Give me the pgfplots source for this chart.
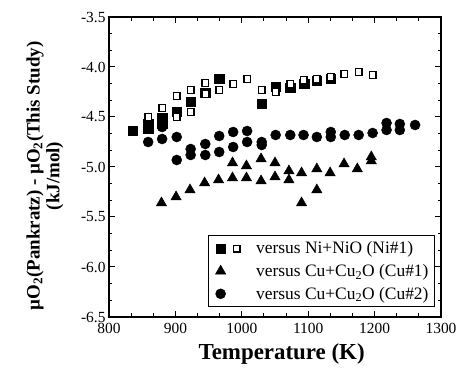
\documentclass[border=0pt]{standalone}
\usepackage{fontspec}
\setmainfont{Liberation Serif}
\usepackage{pgfplots}
\pgfplotsset{compat=1.18}
\begin{document}
\begin{tikzpicture}
\begin{axis}[
  name=ax,
  scale only axis,
  width=332bp, height=300bp,
  xmin=800, xmax=1300, ymin=-6.5, ymax=-3.5,
  xtick={800,900,1000,1100,1200,1300},
  ytick={-6.5,-6.0,-5.5,-5.0,-4.5,-4.0,-3.5},
  minor tick num=2,
  tick align=inside, tick pos=both,
  major tick length=6bp, minor tick length=3.5bp,
  axis line style={line width=1.3bp},
  every tick/.style={black, line width=1bp},
  /pgf/number format/assume math mode=true,
  ticklabel style={font=\fontsize{15.5}{17}\selectfont},
  y tick label style={/pgf/number format/.cd, fixed, fixed zerofill, precision=1, /tikz/.cd},
  x tick label style={/pgf/number format/.cd, 1000 sep={}, /tikz/.cd, yshift=-2.5bp},
  xlabel={Temperature (K)},
  xlabel style={font=\bfseries\fontsize{23}{25}\selectfont, at={(axis description cs:0.52,-0.14)}, anchor=base, inner sep=0pt},
  ylabel={µO\textsubscript{2}(Pankratz) - µO\textsubscript{2}(This Study)\\(kJ/mol)},
  ylabel style={font=\bfseries\fontsize{19}{20}\selectfont, align=center, at={(axis description cs:-0.193,0.47)}, anchor=center},
  legend cell align=left,
  legend style={at={(rel axis cs:0.982,0.033)}, anchor=south east, draw=black, line width=1bp, fill=white, inner sep=4bp, row sep=5bp, column sep=0bp, nodes={inner sep=2bp, font=\fontsize{17.5}{19}\selectfont}},
]
\addplot[only marks, black, mark=square*, mark size=4.7bp, mark options={line width=0.6bp, fill=black},
  legend image code/.code={
    \path (-8bp,0bp) (33bp,0bp);
    \draw[black, line width=0.6bp, mark options={fill=black, line width=0.6bp}] plot[mark=square*, mark size=4.7bp] coordinates {(0bp,0bp)};
    \draw[black, line width=1.4bp, mark options={fill=white, line width=1.4bp}] plot[mark=square*, mark size=3.25bp] coordinates {(16bp,0bp)};
  }] table {
x y
836 -4.64
859 -4.57
859 -4.62
880 -4.51
880 -4.57
902 -4.45
923 -4.35
945 -4.26
966 -4.12
1030 -4.37
1051 -4.20
1073 -4.21
1094 -4.17
1113 -4.14
1134 -4.12
};
\addlegendentry{versus Ni+NiO (Ni\#1)}
\addplot[only marks, black, mark=triangle*, mark size=6bp, mark options={line width=0.5bp, fill=black},
  legend image code/.code={
    \path (-8bp,0bp) (33bp,0bp);
    \draw[black, line width=0.5bp, mark options={fill=black}] plot[mark=triangle*, mark size=6bp] coordinates {(0bp,0bp)};
  }] table {
x y
879 -5.36
901 -5.30
922 -5.23
944 -5.16
965 -5.13
986 -5.11
986 -4.96
1007 -5.11
1007 -4.99
1029 -5.14
1029 -4.92
1050 -5.10
1050 -4.96
1071 -5.13
1071 -5.04
1090 -5.06
1090 -5.36
1113 -5.02
1113 -5.23
1133 -5.06
1154 -4.97
1174 -5.02
1195 -4.90
1195 -4.94
};
\addlegendentry{versus Cu+Cu\textsubscript{2}O (Cu\#1)}
\addplot[only marks, black, mark=*, mark size=5bp, mark options={line width=0.5bp, fill=black},
  legend image code/.code={
    \path (-8bp,0bp) (33bp,0bp);
    \draw[black, line width=0.5bp, mark options={fill=black}] plot[mark=*, mark size=5bp] coordinates {(0bp,0bp)};
  }] table {
x y
859 -4.75
880 -4.60
880 -4.72
902 -4.70
902 -4.93
923 -4.82
923 -4.88
945 -4.77
945 -4.88
966 -4.69
966 -4.85
987 -4.65
987 -4.80
1008 -4.64
1008 -4.75
1030 -4.75
1030 -4.78
1051 -4.68
1073 -4.68
1093 -4.68
1113 -4.70
1134 -4.65
1134 -4.70
1155 -4.68
1176 -4.68
1197 -4.66
1218 -4.56
1218 -4.63
1238 -4.57
1238 -4.63
1261 -4.58
};
\addlegendentry{versus Cu+Cu\textsubscript{2}O (Cu\#2)}
\addplot[only marks, black, mark=square*, mark size=3.25bp, mark options={line width=1.4bp, fill=white}, forget plot] table {
x y
859 -4.50
880 -4.41
902 -4.29
902 -4.50
923 -4.23
923 -4.45
945 -4.16
945 -4.27
966 -4.23
987 -4.17
1008 -4.12
1030 -4.23
1051 -4.25
1073 -4.17
1093 -4.13
1113 -4.12
1134 -4.10
1154 -4.07
1176 -4.05
1197 -4.08
};
\end{axis}
\pgfresetboundingbox
\path ([shift={(-109bp,-58bp)}]ax.south west) rectangle ([shift={(22bp,17bp)}]ax.north east);
\end{tikzpicture}
\end{document}
